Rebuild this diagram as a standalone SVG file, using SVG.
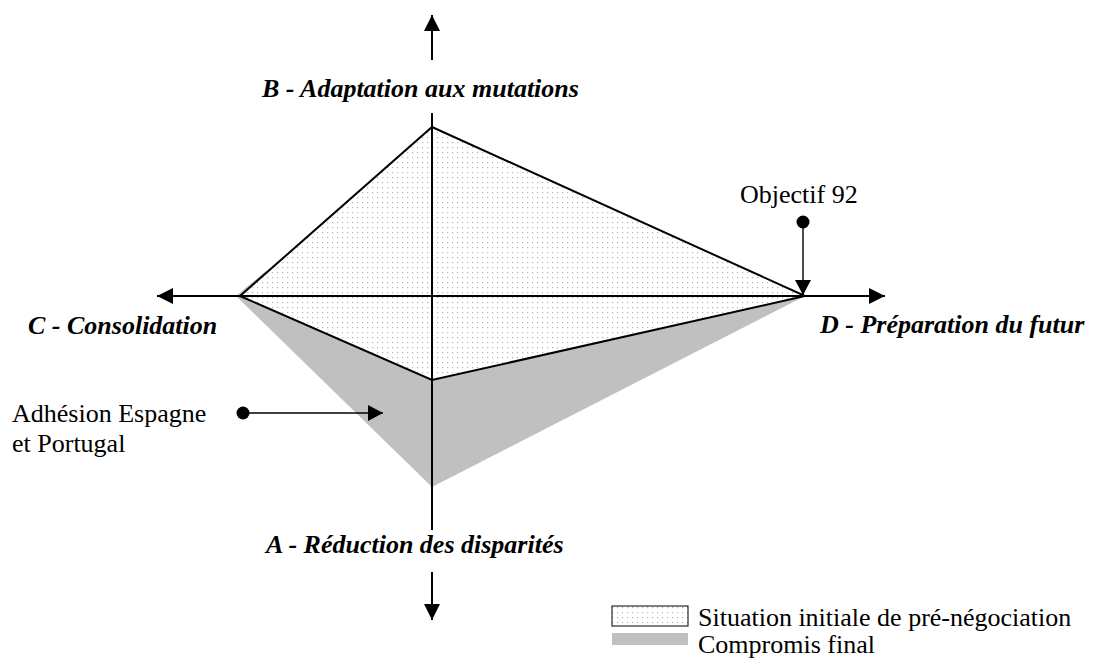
<svg xmlns="http://www.w3.org/2000/svg" width="1097" height="663" viewBox="0 0 1097 663">
  <defs>
    <pattern id="dots" width="5" height="5" patternUnits="userSpaceOnUse">
      <rect width="5" height="5" fill="#ffffff"/>
      <rect x="2" y="2" width="1.2" height="1.2" fill="#b4b4b4"/>
    </pattern>
    <marker id="head" viewBox="0 0 16 16" refX="16" refY="8" markerWidth="16" markerHeight="16" markerUnits="userSpaceOnUse" orient="auto">
      <path d="M0,0 L16,8 L0,16 Z" fill="#000"/>
    </marker>
    <marker id="headSmall" viewBox="0 0 15 16" refX="15" refY="8" markerWidth="15" markerHeight="16" markerUnits="userSpaceOnUse" orient="auto">
      <path d="M0,0 L15,8 L0,16 Z" fill="#000"/>
    </marker>
  </defs>
  <style>
    .axis { stroke: #000; stroke-width: 2; fill: none; }
    .edge { stroke: #000; stroke-width: 2; fill: none; stroke-linejoin: miter; }
    .link { stroke: #000; stroke-width: 1.4; fill: none; }
    .lbl { font-family: "Liberation Serif", "Times New Roman", serif; font-size: 26px; font-weight: bold; font-style: italic; fill: #000; }
    .txt { font-family: "Liberation Serif", "Times New Roman", serif; font-size: 26px; fill: #000; }
  </style>

  <!-- areas -->
  <g id="compromis">
    <polygon points="236,296 266,271 432,300 805,296 432,487" fill="#c0c0c0"/>
  </g>
  <g id="situation-initiale">
    <polygon points="240,296 432,127 805,296 432,380" fill="url(#dots)"/>
    <polyline class="edge" points="240,296 432,127 805,296 432,380 240,296"/>
  </g>

  <!-- axes and connectors -->
  <g id="connectors">
    <line class="axis" x1="157" y1="296" x2="885" y2="296"/>
    <line class="axis" x1="432" y1="113" x2="432" y2="530"/>
    <line class="axis" x1="432" y1="60" x2="432" y2="15" marker-end="url(#head)"/>
    <line class="axis" x1="432" y1="572" x2="432" y2="620" marker-end="url(#head)"/>
    <line class="axis" x1="200" y1="296" x2="157" y2="296" marker-end="url(#head)"/>
    <line class="axis" x1="840" y1="296" x2="885" y2="296" marker-end="url(#head)"/>
    <line class="link" x1="803" y1="222" x2="803" y2="295" marker-end="url(#headSmall)"/>
    <line class="link" x1="243" y1="413" x2="383" y2="413" marker-end="url(#headSmall)"/>
  </g>

  <!-- axis labels -->
  <g id="axe-B"><text class="lbl" x="262" y="97">B - Adaptation aux mutations</text></g>
  <g id="axe-C"><text class="lbl" x="28" y="334">C - Consolidation</text></g>
  <g id="axe-D"><text class="lbl" x="820" y="333">D - Préparation du futur</text></g>
  <g id="axe-A"><text class="lbl" x="266" y="553">A - Réduction des disparités</text></g>

  <!-- annotations -->
  <g id="objectif-92">
    <text class="txt" x="740" y="203">Objectif 92</text>
    <circle cx="803" cy="222" r="6.5" fill="#000"/>
  </g>
  <g id="adhesion">
    <text class="txt" x="12" y="422">Adhésion Espagne</text>
    <text class="txt" x="12" y="452">et Portugal</text>
    <circle cx="243" cy="413" r="6.5" fill="#000"/>
  </g>

  <!-- legend -->
  <g id="legende">
    <rect x="612" y="606" width="76" height="20" fill="url(#dots)" stroke="#000" stroke-width="1"/>
    <rect x="612" y="633" width="76" height="12" fill="#c0c0c0"/>
    <text class="txt" x="698" y="626">Situation initiale de pré-négociation</text>
    <text class="txt" x="698" y="653">Compromis final</text>
  </g>
</svg>
